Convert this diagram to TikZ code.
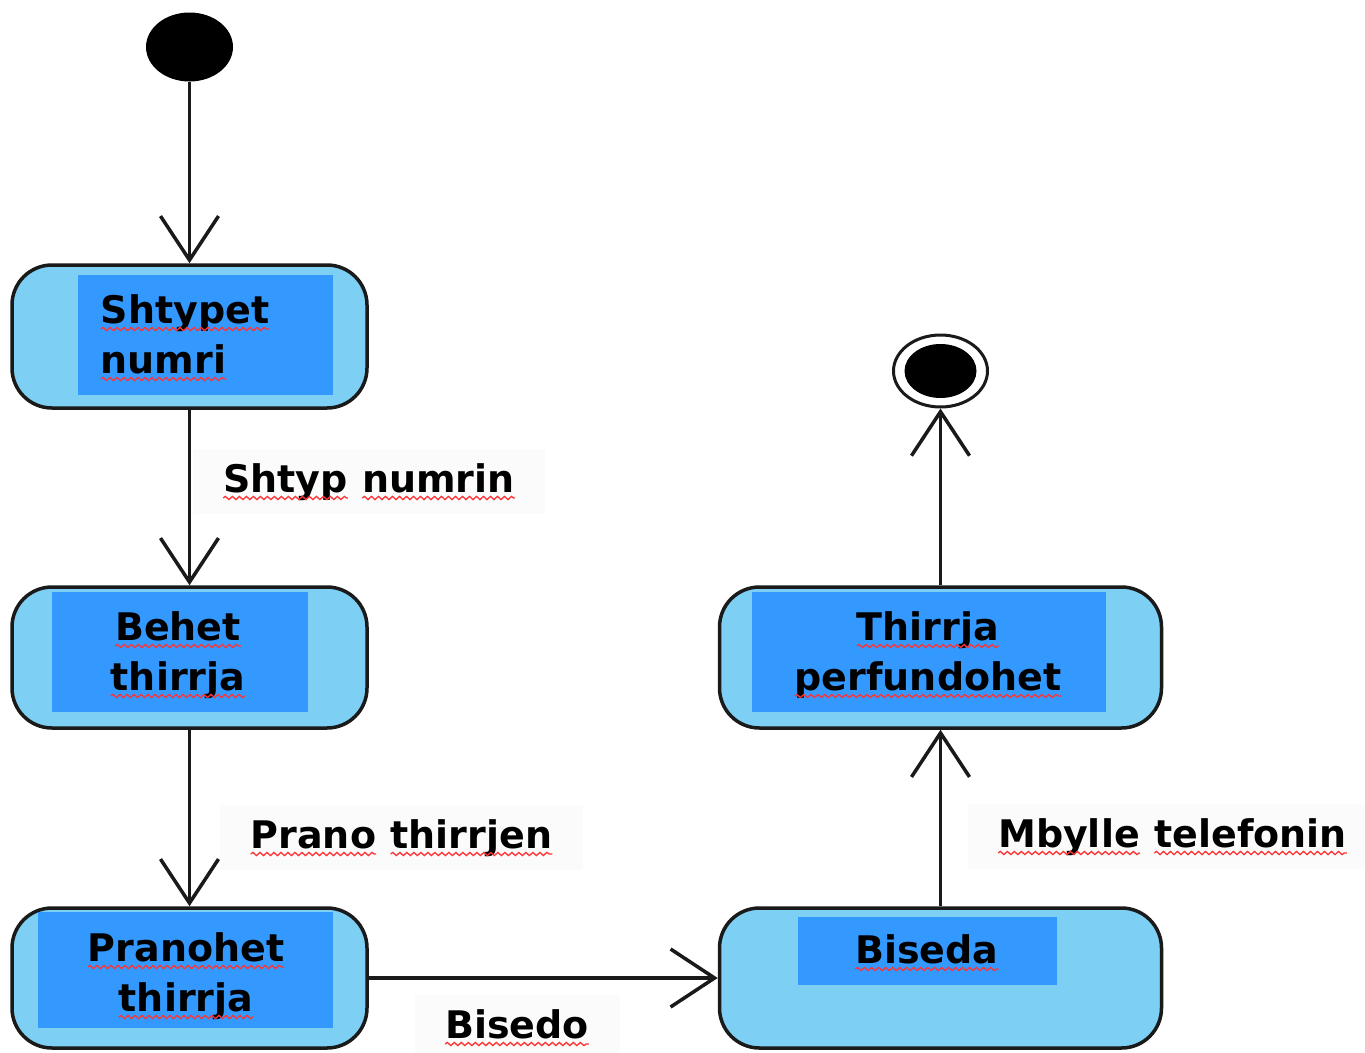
\documentclass[tikz,border=0pt]{standalone}
\usepackage{fontspec}
\setmainfont{DejaVu Sans}
\usetikzlibrary{arrows.meta,shapes.geometric,decorations.pathmorphing}
\definecolor{lightfill}{HTML}{7DCFF3}
\definecolor{innerfill}{HTML}{3399FF}
\definecolor{edgecol}{HTML}{1A1A1A}
\newcommand\sq[1]{\tikz[baseline=(w.base)]{\node[inner sep=0pt,outer sep=0pt,fill=none,draw=none,anchor=base,minimum width=0pt,minimum height=0pt](w){#1};\draw[red!80,line width=1.3pt,decorate,decoration={snake,amplitude=1.6pt,segment length=7pt}]([yshift=-6pt]w.base west)--([yshift=-6pt]w.base east);}}
\tikzset{
  statebox/.style={rectangle, rounded corners=40pt, fill=lightfill, draw=edgecol, line width=3.5pt, inner sep=0pt},
  inbox/.style={rectangle, fill=innerfill, inner sep=0pt},
  txt/.style={font=\fontsize{38}{50}\selectfont\bfseries, inner sep=0pt, align=center, anchor=base},
  lbl/.style={font=\fontsize{38}{50}\selectfont\bfseries, fill=black!1.5, inner xsep=30pt, inner ysep=14pt, anchor=base},
  flow/.style={draw=edgecol, line width=3.5pt, -{Straight Barb[length=44pt,width=58pt]}}
}
\begin{document}
\begin{tikzpicture}[x=1pt,y=-1pt]
\useasboundingbox (0,0) rectangle (1365,1052);
\fill[white] (0,0) rectangle (1365,1052);
% initial and final states
\node[ellipse, fill=black, minimum width=87pt, minimum height=69pt, inner sep=0pt] (init) at (189.5,47) {};
\node[ellipse, draw=edgecol, line width=3pt, fill=white, minimum width=94pt, minimum height=72pt, inner sep=0pt] (finring) at (940.5,371) {};
\node[ellipse, fill=black, minimum width=72pt, minimum height=54pt, inner sep=0pt] (fin) at (940.5,371) {};
% states
\node[statebox, minimum width=355pt, minimum height=143pt] (n1) at (189.5,336.5) {};
\node[statebox, minimum width=355pt, minimum height=141pt] (n2) at (189.5,657.5) {};
\node[statebox, minimum width=355pt, minimum height=140pt] (n3) at (189.5,978) {};
\node[statebox, minimum width=442pt, minimum height=141pt] (n4) at (940.5,657.5) {};
\node[statebox, minimum width=442pt, minimum height=140pt] (n5) at (940.5,978) {};
% inner boxes
\node[inbox, minimum width=255pt, minimum height=120pt] (b1) at (205.5,335) {};
\node[inbox, minimum width=256pt, minimum height=120pt] (b2) at (180,652) {};
\node[inbox, minimum width=295pt, minimum height=116pt] (b3) at (185.5,970) {};
\node[inbox, minimum width=354pt, minimum height=120pt] (b4) at (929,652) {};
\node[inbox, minimum width=259pt, minimum height=68pt] (b5) at (927.5,951) {};
% state texts (base anchor = last line)
\node[txt, align=left, anchor=base west] (t1) at (100,373) {\sq{Shtypet}\\\sq{numri}};
\node[txt] (t2) at (178,690) {\sq{Behet}\\\sq{thirrja}};
\node[txt] (t3) at (186,1011) {\sq{Pranohet}\\\sq{thirrja}};
\node[txt] (t4) at (928,690) {\sq{Thirrja}\\\sq{perfundohet}};
\node[txt] (t5) at (927,963) {\sq{Biseda}};
% transitions
\draw[flow] (init) -- (n1);
\draw[flow] (n1) -- (n2);
\draw[flow] (n2) -- (n3);
\draw[flow] (n3) -- (n5);
\draw[flow] (n5) -- (n4);
\draw[flow] (n4) -- (finring);
% transition labels
\node[lbl] (l1) at (369,492) {\sq{Shtyp} \sq{numrin}};
\node[lbl] (l2) at (401.5,848) {\sq{Prano} \sq{thirrjen}};
\node[lbl] (l3) at (1172.5,847) {\sq{Mbylle} \sq{telefonin}};
\node[lbl] (l4) at (517,1038) {\sq{Bisedo}};
\end{tikzpicture}
\end{document}
